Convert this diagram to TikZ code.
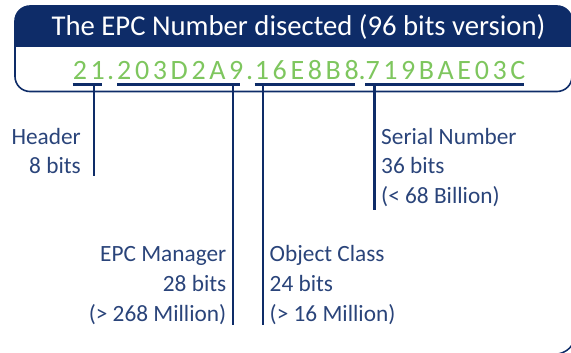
\documentclass[tikz,border=0pt]{standalone}
\usepackage{fontspec}
\setmainfont{Carlito}
\newfontfamily\numfont[LetterSpace=13]{Carlito}
\definecolor{navy}{RGB}{14,44,104}
\definecolor{labeltext}{RGB}{42,68,122}
\definecolor{epcgreen}{RGB}{126,198,94}
\tikzset{
  lbl/.style={inner sep=0pt, text=labeltext, font=\fontsize{23.3}{28}\selectfont},
  grp/.style={inner sep=0pt, text=epcgreen, font=\numfont\fontsize{28}{32}\selectfont},
  uline/.style={draw=navy, line width=2.6pt},
  lead/.style={draw=navy, line width=2.5pt},
}
\begin{document}
\begin{tikzpicture}[x=1pt,y=-1pt]
\useasboundingbox (0,0) rectangle (571,353);

% title box with dark header band
\begin{scope}
  \clip[rounded corners=15pt] (15,6) rectangle (572,91.5);
  \fill[navy] (15,6) rectangle (572,46.7);
\end{scope}
\draw[navy, line width=1.6pt, rounded corners=15pt] (15,6) rectangle (572,91.5);
\node[inner sep=0pt, text=white, font=\fontsize{28.7}{32}\selectfont, anchor=base]
  (title) at (298.5,35.5) {The EPC Number disected (96 bits version)};

% the number, split into its four fields
\node[grp, anchor=base west] (g1) at (72.7,79.3) {21};
\node[grp, anchor=base west] (d1) at (107,79.3) {.};
\node[grp, anchor=base west] (g2) at (117,79.3) {203D2A9};
\node[grp, anchor=base west] (d2) at (246,79.3) {.};
\node[grp, anchor=base west] (g3) at (254.7,79.3) {16E8B8};
\node[grp, anchor=base west] (d3) at (358.5,79.3) {.};
\node[grp, anchor=base west] (g4) at (365.3,79.3) {719BAE03C};

% underlines of the fields
\coordinate (u1a) at (72.7,84.7);  \coordinate (u1b) at (102.3,84.7);
\coordinate (u2a) at (117,84.7);   \coordinate (u2b) at (240,84.7);
\coordinate (u3a) at (254.7,84.7); \coordinate (u3b) at (354.7,84.7);
\coordinate (u4a) at (365.3,84.7); \coordinate (u4b) at (524,84.7);
\draw[uline] (u1a) -- (u1b);
\draw[uline] (u2a) -- (u2b);
\draw[uline] (u3a) -- (u3b);
\draw[uline] (u4a) -- (u4b);

% leader lines down to the descriptions
\coordinate (h1) at (94,84.7);    \coordinate (h2) at (94,175.5);
\coordinate (m1) at (232.8,84.7); \coordinate (m2) at (232.8,325);
\coordinate (o1) at (263,84.7);   \coordinate (o2) at (263,325);
\coordinate (s1) at (374.3,84.7); \coordinate (s2) at (374.3,209.5);
\draw[lead] (h1) -- (h2);
\draw[lead] (m1) -- (m2);
\draw[lead] (o1) -- (o2);
\draw[lead] (s1) -- (s2);

% descriptions
\node[lbl, anchor=base east] (hd1) at (81,144.3) {Header};
\node[lbl, anchor=base east] (hd2) at (81,173.3) {8 bits};

\node[lbl, anchor=base west] (sn1) at (381,144.3) {Serial Number};
\node[lbl, anchor=base west] (sn2) at (381,173.3) {36 bits};
\node[lbl, anchor=base west] (sn3) at (381,203.3) {(< 68 Billion)};

\node[lbl, anchor=base east] (em1) at (226.5,261.7) {EPC Manager};
\node[lbl, anchor=base east] (em2) at (226.5,291.7) {28 bits};
\node[lbl, anchor=base east] (em3) at (226.5,321.7) {(> 268 Million)};

\node[lbl, anchor=base west] (oc1) at (269.5,261.7) {Object Class};
\node[lbl, anchor=base west] (oc2) at (269.5,291.7) {24 bits};
\node[lbl, anchor=base west] (oc3) at (269.5,321.7) {(> 16 Million)};

% edge of a further rounded box in the lower right corner
\draw[navy, line width=1.5pt] (558,354) .. controls (565,352.5) and (569,349.5) .. (572,345);
\end{tikzpicture}
\end{document}
